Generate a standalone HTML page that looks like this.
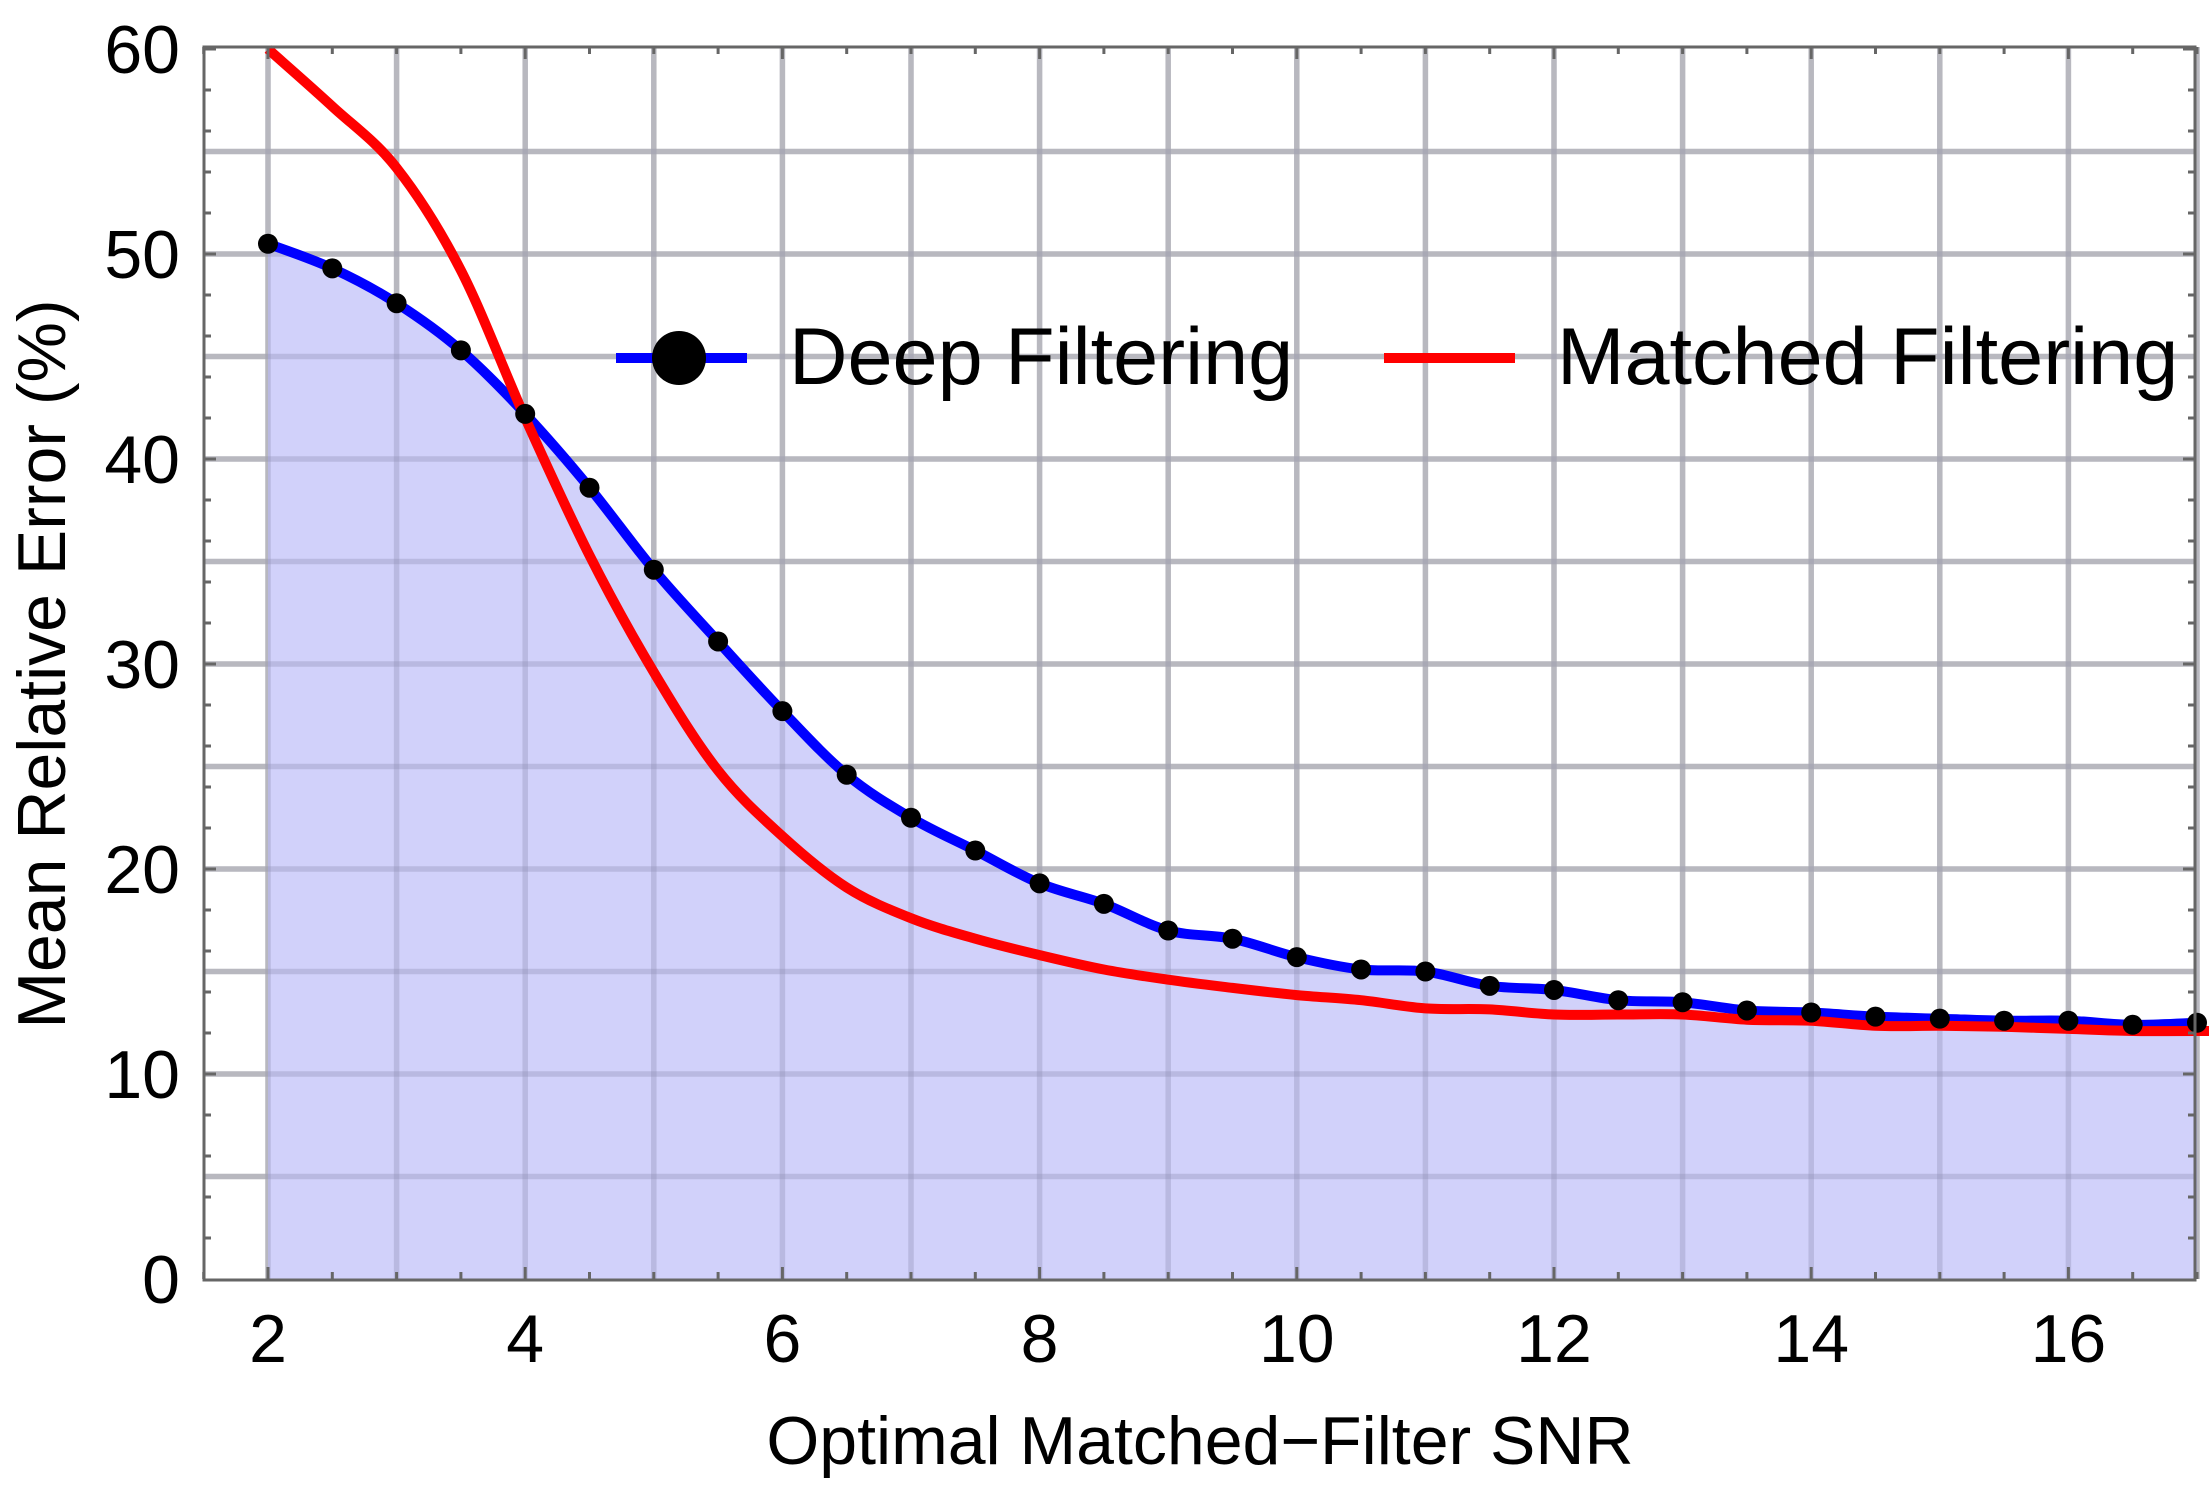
<!DOCTYPE html>
<html><head><meta charset="utf-8"><style>
html,body{margin:0;padding:0;background:#fff;}
svg{display:block;font-family:"Liberation Sans",Arial,sans-serif;}
</style></head><body>
<svg id="s" width="2209" height="1495" viewBox="0 0 2209 1495" xmlns="http://www.w3.org/2000/svg">
<g id="grid"></g>
<path id="fill" fill="#ccccfa" fill-opacity="0.9"/>
<g id="grid2"></g>
<path id="blue" fill="none" stroke="#0000ff" stroke-width="10" stroke-linejoin="round"/>
<path id="red" fill="none" stroke="#ff0000" stroke-width="10" stroke-linejoin="round"/>
<g id="dots"></g>
<rect x="204" y="47" width="1991" height="1233" fill="none" stroke="#666" stroke-width="3"/>
<g id="ticks"></g>
<g id="labels" font-size="68" fill="#000"></g>
<text x="1200" y="1464" font-size="68" text-anchor="middle">Optimal Matched−Filter SNR</text>
<text transform="translate(65,664) rotate(-90)" font-size="68" text-anchor="middle">Mean Relative Error (%)</text>
<line x1="616" y1="358" x2="747" y2="358" stroke="#0000ff" stroke-width="10"/>
<circle cx="679" cy="358" r="27" fill="#000"/>
<text x="789" y="384" font-size="81">Deep Filtering</text>
<line x1="1384" y1="358" x2="1515" y2="358" stroke="#ff0000" stroke-width="10"/>
<text x="1557" y="384" font-size="81">Matched Filtering</text>
</svg>
<script>
const X=v=>268+(v-2)*128.6, Y=v=>1279-v*20.5;
const ns="http://www.w3.org/2000/svg";
function el(p,t,a){const e=document.createElementNS(ns,t);for(const k in a)e.setAttribute(k,a[k]);p.appendChild(e);return e;}
const g=document.getElementById('grid'),g2=document.getElementById('grid2'),tk=document.getElementById('ticks'),lb=document.getElementById('labels');
for(let v=5;v<60;v+=5){el(g,'line',{x1:204,x2:2195,y1:Y(v),y2:Y(v),stroke:'#cbcbcb','stroke-width':5.5});}
for(let v=2;v<=17;v++){el(g,'line',{x1:X(v),x2:X(v),y1:47,y2:1279,stroke:'#cbcbcb','stroke-width':5.5});}
for(let v=5;v<60;v+=5){el(g2,'line',{x1:204,x2:2195,y1:Y(v),y2:Y(v),stroke:'#707090','stroke-opacity':0.2,'stroke-width':5.5});}
for(let v=2;v<=17;v++){el(g2,'line',{x1:X(v),x2:X(v),y1:47,y2:1279,stroke:'#707090','stroke-opacity':0.2,'stroke-width':5.5});}
for(let v=0;v<=60;v+=10){el(lb,'text',{x:180,y:Y(v)+24,'text-anchor':'end'}).textContent=v;}
for(let v=2;v<=16;v+=2){el(lb,'text',{x:X(v),y:1362,'text-anchor':'middle'}).textContent=v;}
for(let v=2;v<=60;v+=2){const l=v%10==0?12:7;el(tk,'line',{x1:204,x2:204+l,y1:Y(v),y2:Y(v),stroke:'#666','stroke-width':3});el(tk,'line',{x1:2195,x2:2195-l,y1:Y(v),y2:Y(v),stroke:'#666','stroke-width':3});}
for(let v=1.5;v<=17;v+=0.5){const l=Number.isInteger(v)&&v%2==0?12:7;el(tk,'line',{x1:X(v),x2:X(v),y1:1279,y2:1279-l,stroke:'#666','stroke-width':3});el(tk,'line',{x1:X(v),x2:X(v),y1:47,y2:47+l,stroke:'#666','stroke-width':3});}
function smooth(pts){let s='M'+pts[0][0].toFixed(1)+','+pts[0][1].toFixed(1);for(let i=0;i<pts.length-1;i++){const p0=pts[Math.max(0,i-1)],p1=pts[i],p2=pts[i+1],p3=pts[Math.min(pts.length-1,i+2)];const c1=[p1[0]+(p2[0]-p0[0])/6,p1[1]+(p2[1]-p0[1])/6],c2=[p2[0]-(p3[0]-p1[0])/6,p2[1]-(p3[1]-p1[1])/6];s+='C'+c1.map(v=>v.toFixed(1))+' '+c2.map(v=>v.toFixed(1))+' '+p2.map(v=>v.toFixed(1));}return s;}
const d=[50.5,49.3,47.6,45.3,42.2,38.6,34.6,31.1,27.7,24.6,22.5,20.9,19.3,18.3,17.0,16.6,15.7,15.1,15.0,14.3,14.1,13.6,13.5,13.1,13.0,12.8,12.7,12.6,12.6,12.4,12.5];
const bp=d.map((v,i)=>[X(2+i*0.5),Y(v)]);
const p=smooth(bp);
document.getElementById('blue').setAttribute('d',p);
document.getElementById('fill').setAttribute('d',p+'L'+X(17)+','+Y(0)+'L'+X(2)+','+Y(0)+'Z');
bp.forEach(a=>el(document.getElementById('dots'),'circle',{cx:a[0],cy:a[1],r:10,fill:'#000'}));
const r=[[2,60],[2.5,57.2],[3,54.2],[3.5,49.2],[4,42],[4.5,35.3],[5,29.6],[5.5,24.8],[6,21.6],[6.5,19.1],[7,17.6],[7.5,16.6],[8,15.8],[8.5,15.1],[9,14.6],[9.5,14.2],[10,13.85],[10.5,13.6],[11,13.2],[11.5,13.15],[12,12.9],[12.5,12.9],[13,12.9],[13.5,12.65],[14,12.6],[14.5,12.35],[15,12.35],[15.5,12.3],[16,12.2],[16.5,12.1],[17.1,12.1]];
document.getElementById('red').setAttribute('d',smooth(r.map(a=>[X(a[0]),Y(a[1])])));
</script>
</body></html>
